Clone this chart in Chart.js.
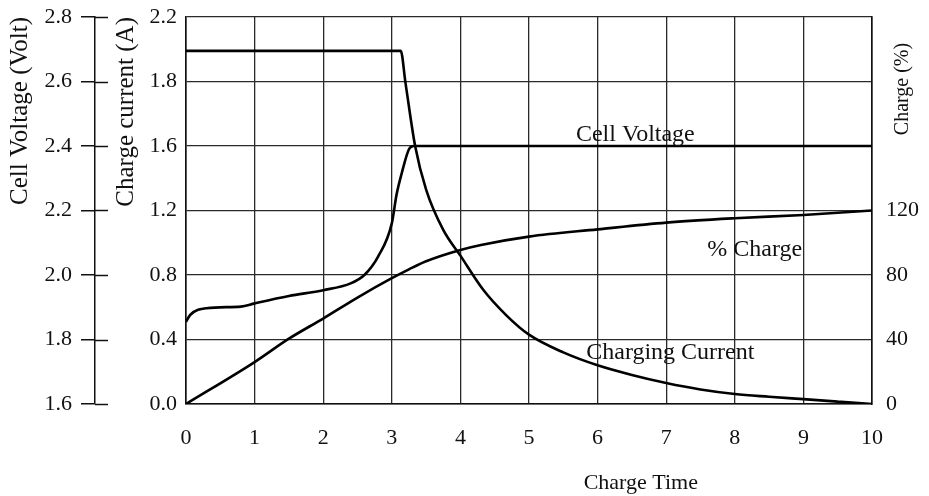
<!DOCTYPE html>
<html>
<head>
<meta charset="utf-8">
<script src="https://cdn.jsdelivr.net/npm/chart.js@4"></script>
<style>
  body { margin: 0; background: #fff; }
  #wrap { width: 929px; height: 496px; }
</style>
</head>
<body>
<div id="wrap"><canvas id="chart"></canvas></div>
<script>
// charge time (h) and readings
const voltTime = [0, 0.06, 0.3, 0.8, 1.0, 1.5, 2.0, 2.4, 2.6, 2.8, 3.0, 3.07, 3.15, 3.25, 3.32, 10];
const voltValues = [1.855, 1.876, 1.897, 1.902, 1.912, 1.935, 1.953, 1.974, 2.0, 2.057, 2.16, 2.25, 2.32, 2.39, 2.4, 2.4];

const currTime = [0, 3.13, 3.2, 3.34, 3.5, 3.75, 4.0, 4.33, 4.67, 5, 5.5, 6, 6.5, 7, 7.5, 8, 8.5, 9, 9.5, 10];
const currValues = [2.19, 2.19, 1.99, 1.6, 1.33, 1.08, 0.92, 0.71, 0.55, 0.43, 0.32, 0.24, 0.18, 0.13, 0.09, 0.062, 0.045, 0.03, 0.015, 0];

const chargeTime = [0, 1, 1.5, 2, 2.5, 3, 3.25, 3.5, 4, 4.3, 5, 6, 7, 8, 9, 10];
const chargeValues = [0, 26, 40.5, 53, 66, 78, 83.5, 88.5, 95.5, 98.6, 103.8, 108.3, 112.5, 115.2, 117.2, 120];

// tick labels as printed
const voltTicks = ["1.6", "1.8", "2.0", "2.2", "2.4", "2.6", "2.8"];
const currTicks = ["0.0", "0.4", "0.8", "1.2", "1.6", "1.8", "2.2"];
const chargeTicks = ["0", "40", "80", "120"];
const timeTicks = ["0", "1", "2", "3", "4", "5", "6", "7", "8", "9", "10"];

const seriesNames = ["Cell Voltage", "Charging Current", "% Charge"];

const pts = (xs, ys) => xs.map((x, i) => ({ x, y: ys[i] }));

Chart.defaults.font.family = "'Liberation Serif', 'DejaVu Serif', serif";
Chart.defaults.color = "#111";

const INK = "#111";
const GRID = "#2a2a2a";

// fixed axis widths, no extra room for half labels
const fixWidth = (w) => (s) => {
  s.width = w;
  s.paddingTop = 0;
  s.paddingBottom = 0;
};

const extras = {
  id: "extras",
  afterDatasetsDraw(chart) {
    const { ctx, scales } = chart;
    const x = scales.x, yC = scales.yC, yV = scales.yV, yP = scales.yP;
    ctx.save();
    ctx.fillStyle = INK;
    ctx.textAlign = "center";
    ctx.textBaseline = "middle";
    ctx.font = "24px 'Liberation Serif'";
    // curve labels
    ctx.fillText(seriesNames[0], x.getPixelForValue(6.55), yC.getPixelForValue(1.67));
    ctx.fillText(seriesNames[1], x.getPixelForValue(7.06), yC.getPixelForValue(0.316));
    ctx.fillText(seriesNames[2], x.getPixelForValue(8.29), yC.getPixelForValue(0.955));

    // cross ticks on the volt axis
    ctx.strokeStyle = INK;
    ctx.lineWidth = 1.5;
    yV.ticks.forEach((t, i) => {
      const py = Math.round(yV.getPixelForTick(i)) + 0.5;
      ctx.beginPath();
      ctx.moveTo(yV.right, py);
      ctx.lineTo(yV.right + 13, py);
      ctx.stroke();
    });

    // right axis title reads upward
    ctx.font = "20px 'Liberation Serif'";
    ctx.save();
    ctx.translate(yP.left + 31, chart.chartArea.top + 72);
    ctx.rotate(-Math.PI / 2);
    ctx.fillText("Charge (%)", 0, 0);
    ctx.restore();

    // x title
    ctx.font = "22px 'Liberation Serif'";
    ctx.fillText("Charge Time", x.getPixelForValue(6.63), chart.height - 13);
    ctx.restore();
  },
};

const line = (label, data, axis) => ({
  label,
  data,
  yAxisID: axis,
  borderColor: "#000",
  borderWidth: 2.6,
  pointRadius: 0,
  fill: false,
  cubicInterpolationMode: "monotone",
});

new Chart(document.getElementById("chart"), {
  type: "line",
  data: {
    datasets: [
      line(seriesNames[0], pts(voltTime, voltValues), "yV"),
      line(seriesNames[1], pts(currTime, currValues), "yC"),
      line(seriesNames[2], pts(chargeTime, chargeValues), "yP"),
    ],
  },
  plugins: [extras],
  options: {
    responsive: true,
    maintainAspectRatio: false,
    animation: false,
    layout: { padding: { top: 17, right: 0, bottom: 0, left: 0 } },
    plugins: { legend: { display: false }, tooltip: { enabled: false } },
    scales: {
      x: {
        type: "linear",
        min: 0,
        max: 10,
        ticks: {
          stepSize: 1,
          padding: 21,
          font: { size: 22 },
          color: INK,
          callback: (v, i) => timeTicks[i],
        },
        grid: { color: GRID, lineWidth: 1.3, drawTicks: false },
        border: { color: INK, width: 1.6 },
        afterFit: (s) => { s.height = 92; },
      },
      yC: {
        position: "left",
        weight: 0,
        min: 0,
        max: 2.4,
        ticks: {
          stepSize: 0.4,
          padding: 9,
          font: { size: 22 },
          color: INK,
          callback: (v, i) => currTicks[i],
        },
        grid: { color: GRID, lineWidth: 1.3, drawTicks: false },
        border: { color: INK, width: 1.6 },
        title: {
          display: true,
          text: "Charge current (A)",
          align: "end",
          font: { size: 25 },
          color: INK,
          padding: { top: 16, bottom: 0 },
        },
        afterFit: fixWidth(91),
      },
      yV: {
        position: "left",
        weight: 1,
        min: 1.6,
        max: 2.8,
        ticks: {
          stepSize: 0.2,
          padding: 9,
          font: { size: 22 },
          color: INK,
          callback: (v, i) => voltTicks[i],
        },
        grid: { drawOnChartArea: false, drawTicks: true, tickLength: 14, color: INK, lineWidth: 1.5 },
        border: { color: INK, width: 1.5 },
        title: {
          display: true,
          text: "Cell Voltage (Volt)",
          align: "end",
          font: { size: 25 },
          color: INK,
          padding: { top: 5, bottom: 0 },
        },
        afterFit: fixWidth(95),
      },
      yP: {
        position: "right",
        min: 0,
        max: 240,
        ticks: {
          stepSize: 40,
          padding: 14,
          font: { size: 22 },
          color: INK,
          callback: (v, i) => chargeTicks[i] ?? "",
        },
        grid: { drawOnChartArea: false, drawTicks: false },
        border: { color: INK, width: 1.6 },
        afterFit: fixWidth(57),
      },
    },
  },
});
</script>
</body>
</html>
